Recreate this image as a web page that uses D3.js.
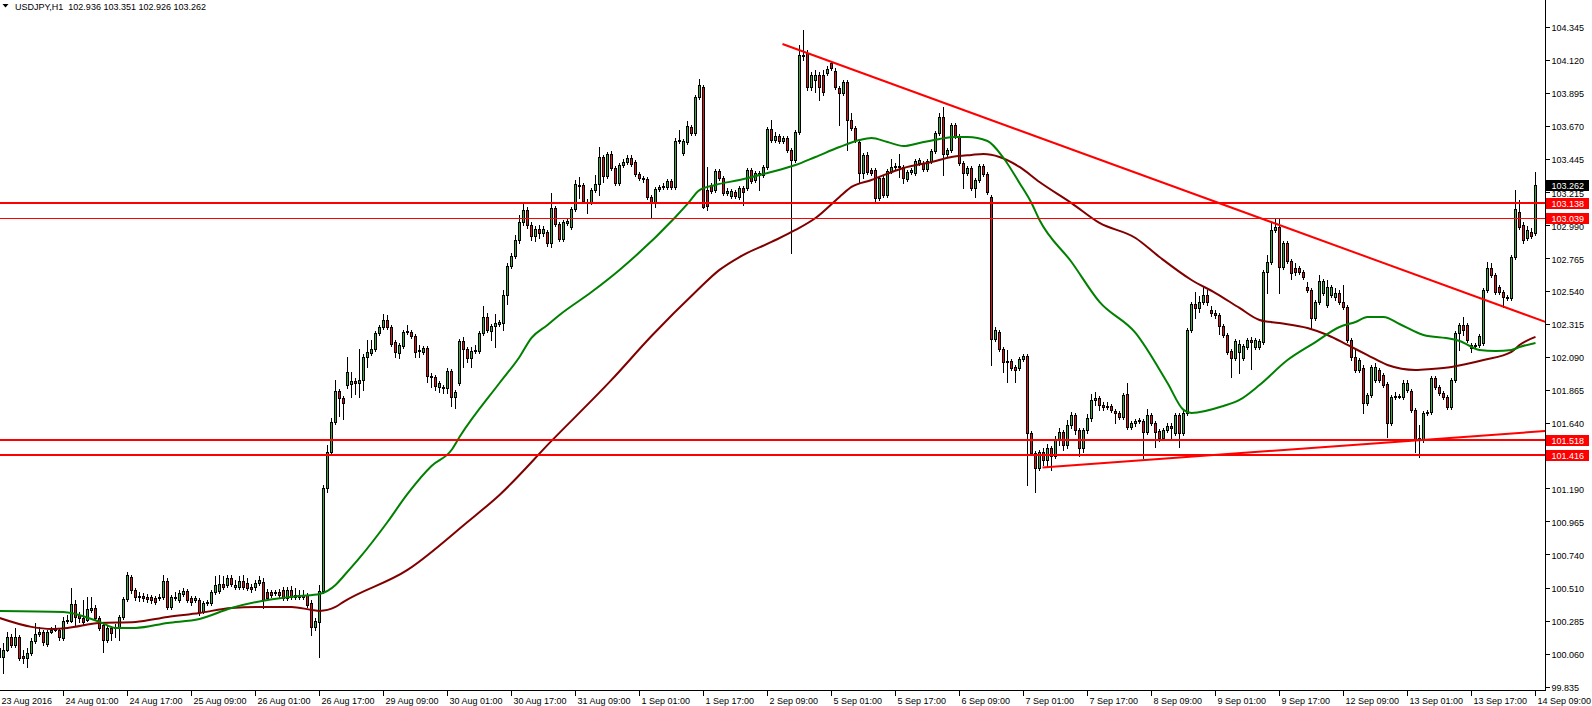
<!DOCTYPE html>
<html><head><meta charset="utf-8">
<script src="https://cdn.jsdelivr.net/npm/d3@7"></script>
<style>
html,body{margin:0;padding:0;background:#fff;overflow:hidden}
svg{display:block}
text{font-family:"Liberation Sans",Arial,sans-serif;font-size:9px;fill:#000}
</style></head><body>
<svg id="c" width="1592" height="706"></svg>
<script>
// ---------------- DATA ----------------
const symbol = "USDJPY,H1";
const lastQuote = [102.936, 103.351, 102.926, 103.262];   // O H L C of last bar
const timeLabels = ["23 Aug 2016","24 Aug 01:00","24 Aug 17:00","25 Aug 09:00","26 Aug 01:00","26 Aug 17:00",
  "29 Aug 09:00","30 Aug 01:00","30 Aug 17:00","31 Aug 09:00","1 Sep 01:00","1 Sep 17:00","2 Sep 09:00",
  "5 Sep 01:00","5 Sep 17:00","6 Sep 09:00","7 Sep 01:00","7 Sep 17:00","8 Sep 09:00","9 Sep 01:00",
  "9 Sep 17:00","12 Sep 09:00","13 Sep 01:00","13 Sep 17:00","14 Sep 09:00"];
const barsPerLabel = 16;
const priceTicks = [104.345,104.120,103.895,103.670,103.445,103.215,102.990,102.765,102.540,102.315,
  102.090,101.865,101.640,101.415,101.190,100.965,100.740,100.510,100.285,100.060,99.835];
const levels = [103.138, 103.039, 101.518, 101.416];
const trendUpper = [[195.75, 104.228], [386.5, 102.328]];   // [bar index, price]
const trendLower = [[260.75, 101.334], [386.5, 101.583]];
// hourly bars: [open, high, low, close]
const ohlc = [
[100.100,100.121,99.984,100.038],[100.038,100.134,99.929,100.086],[100.086,100.209,100.079,100.175],[100.175,100.196,100.107,100.121],
[100.121,100.236,100.107,100.175],[100.175,100.189,100.018,100.031],[100.045,100.086,99.998,100.031],[100.031,100.100,99.971,100.066],
[100.066,100.168,100.052,100.148],[100.148,100.270,100.134,100.196],[100.196,100.243,100.182,100.209],[100.209,100.223,100.121,100.141],
[100.128,100.223,100.114,100.209],[100.209,100.243,100.202,100.223],[100.223,100.257,100.216,100.236],[100.223,100.236,100.155,100.175],
[100.168,100.311,100.155,100.284],[100.284,100.326,100.270,100.291],[100.284,100.510,100.277,100.401],[100.401,100.428,100.257,100.311],
[100.326,100.346,100.277,100.305],[100.305,100.428,100.264,100.277],[100.291,100.449,100.284,100.367],[100.360,100.449,100.346,100.374],
[100.374,100.394,100.291,100.305],[100.305,100.318,100.223,100.236],[100.257,100.277,100.072,100.155],[100.155,100.257,100.141,100.236],
[100.236,100.250,100.155,100.202],[100.236,100.264,100.175,100.243],[100.243,100.326,100.155,100.311],[100.311,100.449,100.298,100.435],
[100.435,100.619,100.421,100.599],[100.585,100.599,100.476,100.496],[100.496,100.510,100.428,100.449],[100.455,100.483,100.421,100.449],
[100.455,100.476,100.421,100.442],[100.449,100.469,100.414,100.435],[100.449,100.462,100.407,100.428],[100.442,100.455,100.401,100.414],
[100.442,100.469,100.428,100.449],[100.449,100.599,100.435,100.558],[100.558,100.578,100.367,100.380],[100.380,100.462,100.367,100.449],
[100.442,100.483,100.428,100.449],[100.428,100.496,100.414,100.476],[100.469,100.510,100.455,100.489],[100.489,100.503,100.414,100.428],
[100.442,100.455,100.394,100.414],[100.428,100.455,100.414,100.442],[100.428,100.442,100.326,100.346],[100.346,100.421,100.339,100.407],
[100.407,100.428,100.394,100.414],[100.407,100.496,100.394,100.483],[100.483,100.592,100.469,100.531],[100.489,100.599,100.476,100.537],
[100.537,100.592,100.503,100.517],[100.531,100.599,100.517,100.578],[100.578,100.599,100.524,100.537],[100.517,100.565,100.503,100.531],
[100.517,100.592,100.503,100.558],[100.558,100.599,100.503,100.517],[100.544,100.578,100.496,100.510],[100.517,100.537,100.483,100.503],
[100.517,100.565,100.496,100.544],[100.544,100.592,100.531,100.565],[100.551,100.578,100.374,100.428],[100.483,100.503,100.428,100.442],
[100.483,100.496,100.449,100.462],[100.476,100.496,100.462,100.483],[100.483,100.503,100.449,100.462],[100.496,100.517,100.428,100.442],
[100.442,100.517,100.428,100.496],[100.496,100.524,100.435,100.449],[100.449,100.510,100.435,100.462],[100.462,100.496,100.435,100.449],
[100.449,100.496,100.435,100.462],[100.462,100.476,100.380,100.394],[100.407,100.428,100.189,100.243],[100.243,100.305,100.223,100.284],
[100.277,100.531,100.038,100.489],[100.489,101.214,100.476,101.194],[101.194,101.487,101.166,101.440],[101.440,101.672,101.419,101.645],
[101.645,101.932,101.631,101.856],[101.856,101.870,101.686,101.809],[101.809,101.822,101.665,101.775],[101.898,102.089,101.877,101.986],
[101.905,101.986,101.816,101.925],[101.925,101.945,101.836,101.911],[101.911,102.144,101.816,101.932],[101.932,102.110,101.863,102.089],
[102.089,102.205,102.021,102.123],[102.116,102.205,102.103,102.144],[102.144,102.266,102.130,102.252],[102.252,102.307,102.239,102.294],
[102.294,102.383,102.280,102.342],[102.342,102.376,102.280,102.294],[102.294,102.307,102.164,102.178],[102.191,102.205,102.089,102.123],
[102.116,102.185,102.082,102.171],[102.164,102.273,102.151,102.259],[102.259,102.307,102.246,102.266],[102.259,102.273,102.219,102.232],
[102.232,102.246,102.089,102.123],[102.137,102.171,102.089,102.130],[102.123,102.164,102.110,102.151],[102.151,102.164,101.918,101.959],
[101.959,101.979,101.884,101.952],[101.952,101.966,101.863,101.891],[101.884,101.925,101.850,101.911],[101.884,101.898,101.843,101.877],
[101.877,102.014,101.843,101.993],[101.993,102.007,101.754,101.816],[101.816,101.863,101.740,101.850],[101.911,102.212,101.898,102.198],
[102.198,102.225,102.021,102.144],[102.144,102.157,102.055,102.082],[102.082,102.157,102.021,102.130],[102.130,102.171,102.116,102.137],
[102.130,102.266,102.116,102.252],[102.252,102.438,102.239,102.362],[102.362,102.390,102.259,102.273],[102.266,102.314,102.205,102.300],
[102.300,102.383,102.157,102.321],[102.314,102.342,102.300,102.328],[102.321,102.547,102.273,102.513],[102.513,102.731,102.451,102.711],
[102.711,102.800,102.697,102.779],[102.779,102.923,102.766,102.889],[102.889,103.059,102.868,103.011],[103.011,103.141,102.991,103.094],
[103.094,103.114,102.971,102.991],[102.991,103.011,102.889,102.916],[102.916,102.984,102.882,102.964],[102.964,102.991,102.902,102.936],
[102.936,102.984,102.916,102.964],[102.943,102.957,102.848,102.868],[102.868,103.210,102.841,103.107],[103.107,103.121,102.984,102.998],
[102.998,103.011,102.882,102.895],[102.895,103.025,102.882,103.011],[103.005,103.039,102.991,103.018],[102.977,103.114,102.964,103.100],
[103.100,103.299,103.087,103.271],[103.258,103.319,103.176,103.264],[103.264,103.278,103.141,103.155],[103.141,103.169,103.073,103.148],
[103.148,103.244,103.135,103.230],[103.230,103.333,103.217,103.271],[103.271,103.524,103.196,103.456],[103.456,103.470,103.285,103.326],
[103.326,103.490,103.312,103.477],[103.477,103.497,103.367,103.381],[103.381,103.394,103.264,103.278],[103.278,103.415,103.264,103.401],
[103.401,103.442,103.388,103.422],[103.422,103.470,103.408,103.449],[103.449,103.470,103.394,103.408],[103.422,103.435,103.326,103.340],
[103.340,103.353,103.299,103.312],[103.312,103.326,103.285,103.305],[103.305,103.319,103.169,103.183],[103.183,103.196,103.046,103.148],
[103.148,103.251,103.114,103.237],[103.237,103.264,103.223,103.251],[103.251,103.278,103.237,103.258],[103.251,103.305,103.237,103.292],
[103.292,103.305,103.237,103.251],[103.251,103.586,103.237,103.565],[103.565,103.640,103.552,103.572],[103.483,103.579,103.470,103.565],
[103.558,103.702,103.545,103.668],[103.661,103.675,103.606,103.620],[103.620,103.880,103.606,103.866],[103.866,103.989,103.852,103.948],
[103.934,103.948,103.107,103.114],[103.230,103.388,103.094,103.121],[103.264,103.278,103.210,103.223],[103.230,103.374,103.217,103.360],
[103.360,103.374,103.299,103.312],[103.312,103.326,103.196,103.210],[103.210,103.244,103.196,103.223],[103.189,103.237,103.176,103.223],
[103.217,103.230,103.176,103.189],[103.183,103.258,103.169,103.244],[103.244,103.258,103.128,103.217],[103.244,103.381,103.230,103.367],
[103.367,103.381,103.278,103.292],[103.299,103.360,103.285,103.347],[103.333,103.360,103.230,103.347],[103.333,103.401,103.319,103.388],
[103.388,103.661,103.374,103.647],[103.647,103.709,103.558,103.572],[103.572,103.627,103.558,103.599],[103.599,103.613,103.552,103.565],
[103.565,103.599,103.552,103.586],[103.586,103.599,103.490,103.504],[103.504,103.517,102.800,103.435],[103.435,103.640,103.422,103.627],
[103.627,104.221,103.613,104.153],[104.153,104.324,104.119,104.146],[104.167,104.187,103.914,103.934],[103.934,104.037,103.914,104.016],
[103.982,104.051,103.900,104.016],[104.016,104.037,103.846,103.934],[104.016,104.051,103.880,103.900],[104.030,104.078,104.016,104.057],
[104.098,104.112,104.051,104.064],[104.044,104.064,103.921,103.934],[103.927,103.941,103.675,103.893],[103.893,103.982,103.880,103.969],
[103.969,103.982,103.504,103.709],[103.709,103.757,103.640,103.654],[103.654,103.668,103.558,103.572],[103.558,103.572,103.278,103.347],
[103.347,103.483,103.312,103.470],[103.470,103.490,103.340,103.353],[103.367,103.381,103.333,103.347],[103.367,103.381,103.141,103.176],
[103.176,103.326,103.162,103.312],[103.312,103.326,103.183,103.196],[103.196,103.374,103.183,103.360],[103.360,103.442,103.347,103.388],
[103.388,103.415,103.374,103.394],[103.388,103.477,103.319,103.394],[103.388,103.401,103.278,103.312],[103.305,103.367,103.292,103.353],
[103.353,103.381,103.340,103.367],[103.347,103.442,103.333,103.429],[103.415,103.449,103.401,103.435],[103.415,103.429,103.360,103.374],
[103.374,103.442,103.360,103.429],[103.429,103.511,103.415,103.497],[103.497,103.634,103.483,103.620],[103.620,103.757,103.606,103.729],
[103.729,103.798,103.333,103.477],[103.477,103.517,103.463,103.504],[103.504,103.688,103.490,103.675],[103.675,103.688,103.586,103.599],
[103.599,103.613,103.401,103.415],[103.415,103.429,103.244,103.347],[103.347,103.394,103.333,103.381],[103.381,103.394,103.230,103.244],
[103.244,103.312,103.183,103.299],[103.299,103.408,103.285,103.394],[103.394,103.408,103.326,103.340],[103.340,103.353,103.203,103.217],
[103.183,103.196,102.034,102.212],[102.212,102.294,102.198,102.273],[102.259,102.273,102.130,102.144],[102.144,102.157,101.986,102.055],
[102.062,102.137,101.918,102.055],[102.062,102.075,102.000,102.014],[102.021,102.034,101.918,102.000],[102.014,102.089,102.000,102.075],
[102.075,102.110,102.062,102.096],[102.096,102.110,101.214,101.569],[101.569,101.583,101.419,101.433],[101.433,101.446,101.166,101.330],
[101.330,101.453,101.317,101.440],[101.440,101.467,101.351,101.385],[101.385,101.494,101.344,101.467],[101.467,101.481,101.317,101.412],
[101.412,101.549,101.399,101.522],[101.522,101.604,101.487,101.576],[101.576,101.590,101.453,101.487],[101.487,101.658,101.467,101.624],
[101.624,101.713,101.604,101.692],[101.692,101.706,101.563,101.590],[101.590,101.604,101.412,101.467],[101.467,101.604,101.440,101.590],
[101.590,101.699,101.569,101.672],[101.672,101.836,101.651,101.795],[101.795,101.850,101.761,101.809],[101.809,101.822,101.727,101.761],
[101.761,101.781,101.727,101.747],[101.747,101.781,101.733,101.754],[101.754,101.768,101.713,101.727],[101.720,101.733,101.638,101.706],
[101.706,101.720,101.665,101.679],[101.679,101.843,101.665,101.829],[101.836,101.911,101.597,101.610],[101.610,101.651,101.597,101.638],
[101.638,101.665,101.617,101.651],[101.651,101.672,101.638,101.658],[101.651,101.665,101.399,101.576],[101.576,101.733,101.563,101.692],
[101.692,101.706,101.624,101.638],[101.638,101.651,101.474,101.576],[101.583,101.597,101.515,101.535],[101.535,101.604,101.522,101.590],
[101.590,101.638,101.576,101.617],[101.617,101.638,101.522,101.604],[101.569,101.706,101.556,101.692],[101.692,101.706,101.474,101.569],
[101.569,101.720,101.556,101.706],[101.706,102.287,101.692,102.273],[102.273,102.465,102.259,102.451],[102.451,102.533,102.356,102.424],
[102.424,102.506,102.396,102.465],[102.465,102.567,102.451,102.513],[102.513,102.547,102.444,102.465],[102.410,102.438,102.369,102.390],
[102.390,102.410,102.356,102.376],[102.376,102.390,102.246,102.300],[102.300,102.314,102.225,102.239],[102.239,102.252,102.110,102.123],
[102.130,102.144,101.952,102.082],[102.082,102.212,102.068,102.198],[102.123,102.205,101.979,102.178],[102.082,102.178,102.068,102.164],
[102.157,102.219,102.144,102.205],[102.205,102.225,102.007,102.191],[102.157,102.219,102.144,102.205],[102.157,102.212,102.144,102.198],
[102.191,102.684,102.178,102.670],[102.670,102.786,102.526,102.738],[102.738,103.011,102.725,102.957],[102.957,103.032,102.943,102.977],
[102.977,103.032,102.526,102.704],[102.704,102.882,102.690,102.868],[102.868,102.882,102.731,102.745],[102.745,102.759,102.622,102.663],
[102.697,102.731,102.649,102.670],[102.697,102.711,102.656,102.670],[102.670,102.684,102.622,102.636],[102.567,102.602,102.533,102.547],
[102.547,102.561,102.287,102.356],[102.356,102.479,102.342,102.465],[102.465,102.649,102.451,102.608],[102.526,102.622,102.513,102.608],
[102.444,102.615,102.431,102.567],[102.513,102.581,102.499,102.567],[102.499,102.561,102.479,102.526],[102.526,102.547,102.451,102.465],
[102.465,102.581,102.417,102.431],[102.431,102.444,102.191,102.205],[102.205,102.219,102.068,102.089],[102.089,102.151,101.986,102.000],
[102.000,102.082,101.986,102.068],[102.014,102.034,101.706,101.775],[101.775,101.843,101.761,101.829],[101.829,102.034,101.816,102.021],
[101.932,102.048,101.918,102.021],[102.000,102.014,101.918,101.932],[101.966,101.979,101.884,101.898],[101.905,101.918,101.542,101.638],
[101.638,101.829,101.624,101.816],[101.816,101.850,101.802,101.822],[101.816,101.836,101.809,101.822],[101.816,101.932,101.802,101.911],
[101.863,101.932,101.850,101.911],[101.856,101.870,101.713,101.727],[101.727,101.740,101.440,101.522],[101.522,101.624,101.405,101.535],
[101.522,101.720,101.508,101.706],[101.706,101.727,101.692,101.713],[101.713,101.959,101.699,101.945],[101.945,101.959,101.870,101.884],
[101.884,101.898,101.829,101.843],[101.843,101.856,101.802,101.816],[101.816,101.829,101.733,101.747],[101.747,101.945,101.733,101.932],
[101.932,102.266,101.918,102.252],[102.252,102.321,102.137,102.307],[102.307,102.362,102.239,102.273],[102.307,102.321,102.191,102.205],
[102.151,102.185,102.123,102.171],[102.164,102.185,102.151,102.171],[102.171,102.246,102.157,102.232],[102.185,102.561,102.171,102.547],
[102.547,102.738,102.533,102.697],[102.697,102.731,102.636,102.649],[102.649,102.663,102.520,102.533],[102.567,102.581,102.520,102.533],
[102.533,102.547,102.431,102.499],[102.499,102.513,102.479,102.492],[102.492,102.786,102.479,102.772],[102.772,103.230,102.759,103.100],
[103.080,103.162,102.964,102.977],[102.991,103.011,102.868,102.889],[102.902,102.984,102.889,102.957],[102.943,102.970,102.902,102.916],
[102.936,103.351,102.926,103.262]
];
// moving averages: [bar index, value]
const maFast = [[0,100.353],[16,100.346],[19,100.332],[25,100.278],[29,100.237],[34,100.237],[42,100.271],[50,100.298],
  [58,100.373],[67,100.428],[75,100.455],[80,100.469],[84,100.530],[86,100.590],[90,100.715],[97,100.961],[102,101.153],
  [108,101.344],[113,101.453],[115,101.542],[125,101.911],[130,102.089],[133,102.219],[137,102.308],[140,102.376],
  [148,102.533],[155,102.684],[169,103.046],[172,103.135],[175,103.230],[179,103.265],[185,103.299],[192,103.347],
  [199,103.401],[204,103.456],[210,103.524],[215,103.572],[218,103.586],[222,103.558],[226,103.531],[230,103.552],
  [235,103.579],[239,103.593],[242,103.593],[247,103.565],[251,103.449],[255,103.278],[258,103.141],[260,103.025],
  [268,102.738],[275,102.465],[284,102.253],[292,101.911],[296,101.727],[298,101.706],[306,101.754],[310,101.795],
  [315,101.897],[322,102.068],[329,102.191],[335,102.294],[339,102.328],[342,102.362],[346,102.362],[350,102.314],
  [356,102.239],[363,102.212],[365,102.198],[370,102.137],[374,102.130],[378,102.137],[380,102.157],[384,102.185]];
const maSlow = [[0,100.305],[8,100.244],[13,100.230],[17,100.237],[25,100.271],[34,100.278],[42,100.312],[50,100.339],
  [58,100.373],[67,100.380],[73,100.380],[78,100.360],[80,100.353],[84,100.380],[86,100.415],[102,100.633],[117,100.961],
  [125,101.146],[138,101.515],[153,101.932],[163,102.232],[174,102.533],[180,102.684],[185,102.772],[193,102.875],
  [199,102.957],[204,103.039],[210,103.183],[213,103.251],[218,103.299],[226,103.381],[233,103.422],[238,103.456],
  [243,103.470],[246,103.476],[250,103.456],[255,103.388],[260,103.285],[268,103.141],[275,103.005],[284,102.902],
  [290,102.772],[298,102.615],[304,102.526],[310,102.424],[315,102.342],[320,102.321],[327,102.287],[332,102.239],
  [337,102.171],[342,102.102],[347,102.034],[354,102.000],[358,102.007],[363,102.021],[371,102.068],[378,102.123],
  [380,102.171],[384,102.226]];

// ---------------- DRAWING ----------------
const svg = d3.select("#c");
const plotRight = 1545, plotBottom = 690;
const x = d3.scaleLinear().domain([0, ohlc.length - 1]).range([-0.5, 1535.5]);
const y = d3.scaleLinear().domain([99.809, 104.529]).range([690.5, 0]);
const ry = v => Math.round(y(v));
const bullFill = "#3aab3a", bearFill = "#e31212";

svg.append("rect").attr("width",1592).attr("height",706).attr("fill","#fff");
svg.append("defs").append("clipPath").attr("id","plot")
  .append("rect").attr("x",0).attr("y",0).attr("width",plotRight).attr("height",plotBottom);
const plot = svg.append("g").attr("clip-path","url(#plot)").attr("shape-rendering","crispEdges");

// candles
const cg = plot.append("g");
const candle = cg.selectAll("g.c").data(ohlc).join("g").attr("class","c");
candle.append("rect")
  .attr("x", (d,i) => x(i) - 0.5).attr("width", 1)
  .attr("y", d => ry(d[1])).attr("height", d => Math.max(1, ry(d[2]) - ry(d[1]) + 1))
  .attr("fill", "#000");
candle.append("rect")
  .attr("x", (d,i) => x(i) - 1.5).attr("width", 3)
  .attr("y", d => ry(Math.max(d[0], d[3])))
  .attr("height", d => ry(Math.min(d[0], d[3])) - ry(Math.max(d[0], d[3])) + 1)
  .attr("fill", "#000");
candle.filter(d => ry(Math.min(d[0], d[3])) - ry(Math.max(d[0], d[3])) >= 2)
  .append("rect")
  .attr("x", function(d){ const i = ohlc.indexOf(d); return x(i) - 0.5; }).attr("width", 1)
  .attr("y", d => ry(Math.max(d[0], d[3])) + 1)
  .attr("height", d => ry(Math.min(d[0], d[3])) - ry(Math.max(d[0], d[3])) - 1)
  .attr("fill", d => d[3] >= d[0] ? bullFill : bearFill);

// moving averages
const lineGen = d3.line().x(d => x(d[0])).y(d => y(d[1])).curve(d3.curveMonotoneX);
const mg = svg.append("g").attr("clip-path","url(#plot)");
mg.append("path").attr("d", lineGen(maSlow)).attr("fill","none").attr("stroke","#800000").attr("stroke-width",2);
mg.append("path").attr("d", lineGen(maFast)).attr("fill","none").attr("stroke","#008000").attr("stroke-width",2);

// horizontal levels
const lg = svg.append("g").attr("clip-path","url(#plot)").attr("shape-rendering","crispEdges");
levels.forEach((p, k) => {
  const thin = k === 1;
  const yy = thin ? ry(p) + 0.5 : ry(p);
  lg.append("line").attr("x1",0).attr("x2",plotRight).attr("y1",yy).attr("y2",yy)
    .attr("stroke","#ff0000").attr("stroke-width", thin ? 1 : 2);
});
// trend lines
[trendUpper, trendLower].forEach(t => {
  lg.append("line")
    .attr("x1", x(t[0][0])).attr("y1", y(t[0][1]))
    .attr("x2", x(t[1][0])).attr("y2", y(t[1][1]))
    .attr("stroke","#ff0000").attr("stroke-width",2).attr("shape-rendering","auto");
});

// frame
const fg = svg.append("g").attr("shape-rendering","crispEdges");
fg.append("rect").attr("x",plotRight).attr("y",0).attr("width",1).attr("height",plotBottom+1).attr("fill","#000");
fg.append("rect").attr("x",0).attr("y",plotBottom).attr("width",plotRight+1).attr("height",1).attr("fill","#000");

// price axis
priceTicks.forEach(p => {
  fg.append("rect").attr("x",plotRight+1).attr("y",ry(p)).attr("width",4).attr("height",1).attr("fill","#000");
  svg.append("text").attr("x",1551.5).attr("y",y(p)+4.5).text(p.toFixed(3));
});
function box(p, color) {
  svg.append("rect").attr("x",plotRight+1).attr("y",ry(p)-5).attr("width",43).attr("height",11)
    .attr("fill",color).attr("shape-rendering","crispEdges");
  svg.append("text").attr("x",1551.5).attr("y",y(p)+4).style("fill","#fff").text(p.toFixed(3));
}
box(lastQuote[3], "#000");
levels.forEach(p => box(p, "#ff0000"));

// time axis
timeLabels.forEach((t, k) => {
  const xi = x(k * barsPerLabel);
  fg.append("rect").attr("x", xi - 0.5).attr("y", plotBottom + 1).attr("width",1).attr("height",5).attr("fill","#000");
  svg.append("text").attr("x", Math.max(0.5, xi + 2)).attr("y", 704).text(t);
});

// title
svg.append("path").attr("d","M2.5,4 L8.5,4 L5.5,7.5 Z").attr("fill","#000");
svg.append("text").attr("x",15).attr("y",9.5).style("white-space","pre")
  .text(symbol + "  " + lastQuote.map(v => v.toFixed(3)).join(" "));
</script>
</body></html>
